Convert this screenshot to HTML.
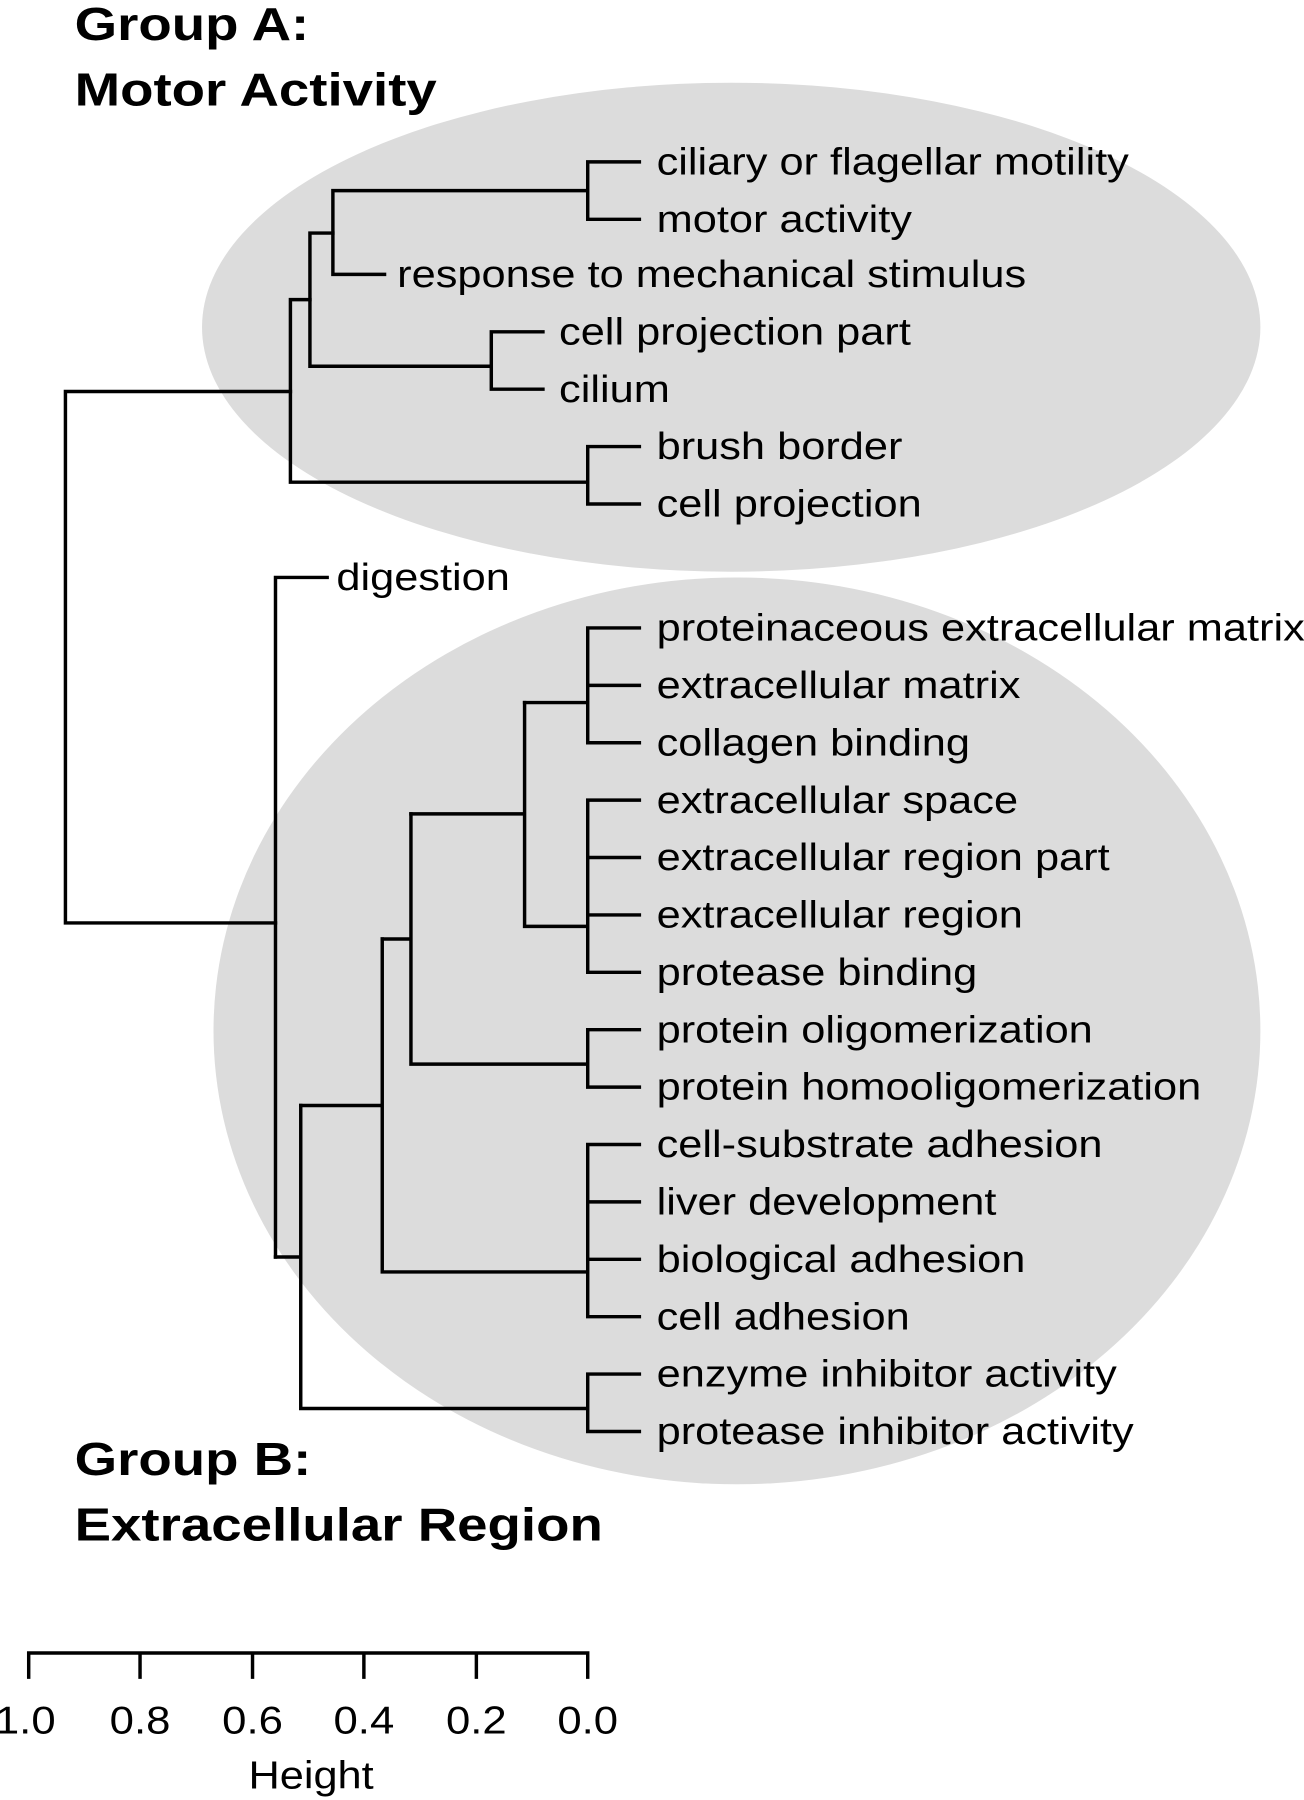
<!DOCTYPE html>
<html><head><meta charset="utf-8"><style>html,body{margin:0;padding:0;background:#fff}svg{display:block}</style></head>
<body>
<svg width="1304" height="1800" viewBox="0 0 1136 1568" xmlns="http://www.w3.org/2000/svg" font-family="Liberation Sans, sans-serif">
<ellipse cx="637" cy="285" rx="461" ry="213" fill="#dcdcdc"/>
<ellipse cx="642" cy="898" rx="456" ry="395" fill="#dcdcdc"/>
<g font-weight="bold" font-size="40" fill="#000">
<text transform="translate(65,35) scale(1.19,1)">Group A:</text>
<text transform="translate(65,92) scale(1.19,1)">Motor Activity</text>
<text transform="translate(65,1285) scale(1.19,1)">Group B:</text>
<text transform="translate(65,1342) scale(1.19,1)">Extracellular Region</text>
</g>
<g stroke="#000" stroke-width="3" fill="none" stroke-linecap="square">
<path d="M512 141H557M512 191H557M512 141V191M290 166H512M290 239H335M290 166V239"/>
<path d="M428 289H473M428 339H473M428 289V339M270 203H290M270 319H428M270 203V319"/>
<path d="M512 389H557M512 439H557M512 389V439M253 420H512M253 261H270M253 261V420"/>
<path d="M57 341H253M57 804H240M57 341V804"/>
<path d="M240 503H285M240 503V1095"/>
<path d="M512 547H557M512 597H557M512 647H557M512 547V647M457 612H512"/>
<path d="M512 697H557M512 747H557M512 797H557M512 847H557M512 697V847M457 807H512M457 612V807M358 709H457"/>
<path d="M512 897H557M512 947H557M512 897V947M358 927H512M358 709V927M333 818H358"/>
<path d="M512 997H557M512 1047H557M512 1097H557M512 1147H557M512 997V1147M333 1108H512M333 818V1108M262 963H333"/>
<path d="M512 1197H557M512 1247H557M512 1197V1247M262 1227H512M262 963V1227M240 1095H262"/>
<path d="M25 1440H512M25 1440V1461M122 1440V1461M220 1440V1461M317 1440V1461M415 1440V1461M512 1440V1461"/>
</g>
<g font-size="33" fill="#000">
<text transform="translate(572,152) scale(1.145,1)">ciliary or flagellar motility</text>
<text transform="translate(572,202) scale(1.145,1)">motor activity</text>
<text transform="translate(346,250) scale(1.145,1)">response to mechanical stimulus</text>
<text transform="translate(487,300) scale(1.145,1)">cell projection part</text>
<text transform="translate(487,350) scale(1.145,1)">cilium</text>
<text transform="translate(572,400) scale(1.145,1)">brush border</text>
<text transform="translate(572,450) scale(1.145,1)">cell projection</text>
<text transform="translate(293,514) scale(1.145,1)">digestion</text>
<text transform="translate(572,558) scale(1.145,1)">proteinaceous extracellular matrix</text>
<text transform="translate(572,608) scale(1.145,1)">extracellular matrix</text>
<text transform="translate(572,658) scale(1.145,1)">collagen binding</text>
<text transform="translate(572,708) scale(1.145,1)">extracellular space</text>
<text transform="translate(572,758) scale(1.145,1)">extracellular region part</text>
<text transform="translate(572,808) scale(1.145,1)">extracellular region</text>
<text transform="translate(572,858) scale(1.145,1)">protease binding</text>
<text transform="translate(572,908) scale(1.145,1)">protein oligomerization</text>
<text transform="translate(572,958) scale(1.145,1)">protein homooligomerization</text>
<text transform="translate(572,1008) scale(1.145,1)">cell-substrate adhesion</text>
<text transform="translate(572,1058) scale(1.145,1)">liver development</text>
<text transform="translate(572,1108) scale(1.145,1)">biological adhesion</text>
<text transform="translate(572,1158) scale(1.145,1)">cell adhesion</text>
<text transform="translate(572,1208) scale(1.145,1)">enzyme inhibitor activity</text>
<text transform="translate(572,1258) scale(1.145,1)">protease inhibitor activity</text>
</g>
<g font-size="34" fill="#000" text-anchor="middle">
<text transform="translate(22,1510) scale(1.12,1)">1.0</text>
<text transform="translate(122,1510) scale(1.12,1)">0.8</text>
<text transform="translate(220,1510) scale(1.12,1)">0.6</text>
<text transform="translate(317,1510) scale(1.12,1)">0.4</text>
<text transform="translate(415,1510) scale(1.12,1)">0.2</text>
<text transform="translate(512,1510) scale(1.12,1)">0.0</text>
<text transform="translate(271,1558) scale(1.11,1)">Height</text>
</g>
</svg>
</body></html>
